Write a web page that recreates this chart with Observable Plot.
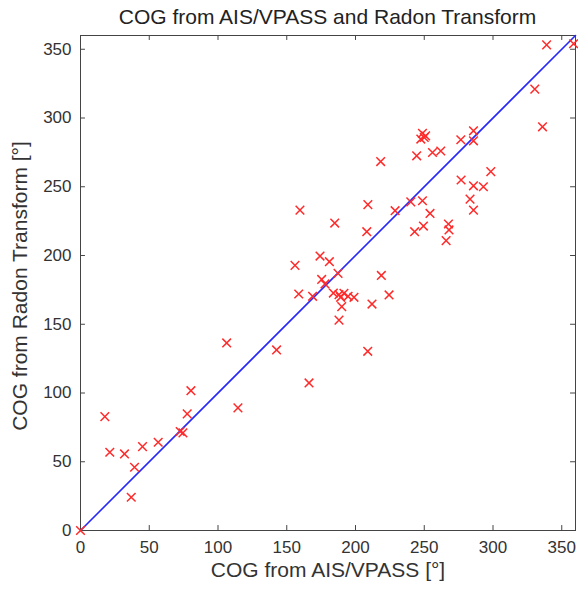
<!DOCTYPE html>
<html>
<head>
<meta charset="utf-8">
<script src="https://cdn.jsdelivr.net/npm/d3@7"></script>
<script src="https://cdn.jsdelivr.net/npm/@observablehq/plot@0.6"></script>
<style>
  body { margin: 0; background: #fff; font-family: "Liberation Sans", Arial, sans-serif; }
  #title { width: 578px; height: 30px; position: relative; }
  #title span { position: absolute; left: 80px; width: 495px; text-align: center; top: 5px; font-size: 21px; line-height: 24px; color: #222; white-space: nowrap; }
</style>
</head>
<body>
<div id="title"><span>COG from AIS/VPASS and Radon Transform</span></div>
<div id="chart"></div>
<script>
const titleText = "COG from AIS/VPASS and Radon Transform";
const xLabel = "COG from AIS/VPASS [°]";
const yLabel = "COG from Radon Transform [°]";
const tickValues = [0, 50, 100, 150, 200, 250, 300, 350];
const domain = [0, 360];

// COG from AIS/VPASS (x)
const cogAIS = [0, 17.7, 21.3, 32, 39.3, 36.9, 45.1, 56.5, 72.5, 74.5, 77.6, 80.3, 114.5, 106.3,
  142.6, 166.2, 156, 158.7, 159.6, 168.8, 174.2, 181, 175.4, 177.8, 184.9, 187.3, 183.9, 188,
  191.6, 189.2, 194.6, 198.9, 190, 188, 208.9, 208.2, 209, 212, 218.3, 218.8, 224.4, 228.8,
  240.2, 248.7, 243, 249.4, 254.2, 244.5, 256, 262, 248.7, 250, 247.5, 251, 267.6, 268, 265.9,
  276.8, 276.6, 283.3, 285.8, 285.8, 285.8, 285.8, 293, 298.4, 330.4, 336, 339, 358.6];
// COG from Radon Transform (y)
const cogRadon = [0, 82.8, 56.9, 55.7, 46, 24.2, 61, 64.2, 72, 71, 84.8, 101.7, 89.2, 136.4,
  131.3, 107.3, 192.8, 172, 233, 170.3, 199.6, 195.5, 182.6, 179.3, 223.6, 187, 172.7, 171.5,
  172.5, 169.6, 170.3, 169.6, 162.8, 153, 130.3, 217.3, 237, 164.7, 268.3, 185.5, 171.3, 232.6,
  239, 239.8, 217.3, 221.4, 230.6, 272.5, 274.9, 276, 288.8, 285.8, 284.7, 287, 222.9, 218.6, 210.8,
  254.9, 284.2, 241, 233, 250.7, 283.4, 290.7, 250, 261, 321, 293.6, 353.2, 354];

const lineX = [0, 360];
const lineY = [0, 360];

const points = cogAIS.map((x, i) => ({x, y: cogRadon[i]}));
const diag = lineX.map((x, i) => ({x, y: lineY[i]}));

const frameColor = "#444";
const chart = Plot.plot({
  width: 578,
  height: 563,
  marginLeft: 80,
  marginRight: 3,
  marginTop: 5,
  marginBottom: 63,
  style: {fontFamily: "'Liberation Sans', Arial, sans-serif", fontSize: "17px", color: "#333", background: "#fff"},
  x: {domain, ticks: tickValues},
  y: {domain, ticks: tickValues},
  marks: [
    Plot.frame({stroke: frameColor, strokeWidth: 1}),
    Plot.ruleX(tickValues, {x: d => d, y1: 0, y2: 3.6, stroke: frameColor}),
    Plot.ruleX(tickValues, {x: d => d, y1: 356.4, y2: 360, stroke: frameColor}),
    Plot.ruleY(tickValues, {y: d => d, x1: 0, x2: 3.6, stroke: frameColor}),
    Plot.ruleY(tickValues, {y: d => d, x1: 356.4, x2: 360, stroke: frameColor}),
    Plot.axisX({ticks: tickValues, tickSize: 0, tickPadding: 10, fontSize: 17, label: null}),
    Plot.axisY({ticks: tickValues, tickSize: 0, tickPadding: 9, fontSize: 17, label: null}),
    Plot.line(diag, {x: "x", y: "y", stroke: "#2a2af5", strokeWidth: 1.6}),
    Plot.dot(points, {x: "x", y: "y", symbol: "times", r: 4, stroke: "#ff2a2a", strokeWidth: 1.5}),
    Plot.text([xLabel], {frameAnchor: "bottom", dy: 46, text: d => d, fontSize: 21, fill: "#333"}),
    Plot.text([yLabel], {frameAnchor: "left", textAnchor: "middle", dx: -60, dy: 3, rotate: -90, text: d => d, fontSize: 21, fill: "#333"})
  ]
});
document.getElementById("chart").appendChild(chart);
</script>
</body>
</html>
